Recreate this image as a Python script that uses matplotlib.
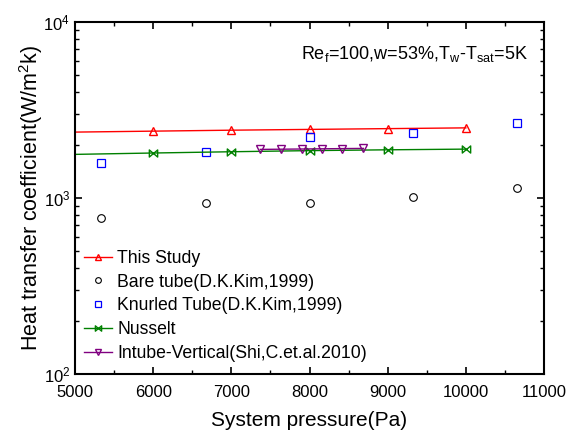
import matplotlib
matplotlib.use('Agg')
import matplotlib.pyplot as plt
import numpy as np
from matplotlib.path import Path
from matplotlib.ticker import MultipleLocator, LogLocator, NullFormatter

plt.rcParams['font.family'] = ['Liberation Sans', 'DejaVu Sans']
plt.rcParams['mathtext.fontset'] = 'custom'
plt.rcParams['mathtext.rm'] = 'Liberation Sans'
plt.rcParams['mathtext.it'] = 'Liberation Sans'

# datos
p_study = [5000, 6000, 7000, 8000, 9000, 10000]
h_study = [2370, 2400, 2430, 2455, 2480, 2505]

p_kim = [5330, 6675, 8000, 9320, 10660]
h_bare = [773, 939, 933, 1014, 1134]
h_knurled = [1587, 1833, 2228, 2329, 2666]

p_nusselt = [5000, 6000, 7000, 8000, 9000, 10000]
h_nusselt = [1771, 1803, 1833, 1860, 1880, 1897]

p_shi = [7370, 7630, 7900, 8160, 8420, 8690]
h_shi = [1890, 1895, 1900, 1905, 1910, 1915]

# marcador tipo "bowtie"
bowtie = Path([(-1, 0.85), (-1, -0.85), (1, 0.85), (1, -0.85), (-1, 0.85)],
              [Path.MOVETO, Path.LINETO, Path.LINETO, Path.LINETO, Path.CLOSEPOLY])

fig = plt.figure(figsize=(5.69, 4.32), dpi=100)
ax = fig.add_axes([0.132, 0.134, 0.824, 0.815])

ax.plot(p_study, h_study, color='red', lw=1, marker='^', ms=6, mfc='none',
        mew=1, markevery=slice(1, None), label='This Study')
ax.plot(p_kim, h_bare, ls='none', color='black', marker='o', ms=5.5, mfc='none',
        mew=0.8, label='Bare tube(D.K.Kim,1999)')
ax.plot(p_kim, h_knurled, ls='none', color='blue', marker='s', ms=5.5, mfc='none',
        mew=0.9, label='Knurled Tube(D.K.Kim,1999)')
ax.plot(p_nusselt, h_nusselt, color='green', lw=1, marker=bowtie, ms=6, mfc='none',
        mew=1, markevery=slice(1, None), label='Nusselt')
ax.plot(p_shi, h_shi, color='purple', lw=1, marker='v', ms=6, mfc='none',
        mew=1, label='Intube-Vertical(Shi,C.et.al.2010)')

ax.set_yscale('log')
ax.set_xlim(5000, 11000)
ax.set_ylim(100, 10000)
ax.xaxis.set_major_locator(MultipleLocator(1000))
ax.xaxis.set_minor_locator(MultipleLocator(500))
ax.yaxis.set_major_locator(LogLocator(base=10))
ax.yaxis.set_minor_locator(LogLocator(base=10, subs=np.arange(2, 10)))
ax.yaxis.set_minor_formatter(NullFormatter())

ax.tick_params(which='both', direction='in', top=True, right=True, labelsize=12)
ax.tick_params(axis='x', which='major', pad=8)
ax.tick_params(which='major', length=5, width=1.2)
ax.tick_params(which='minor', length=3, width=1)
for s in ax.spines.values():
    s.set_linewidth(1.5)

ax.set_xlabel('System pressure(Pa)', fontsize=15, labelpad=8)
ax.set_ylabel('Heat transfer coefficient(W/m$^2$k)', fontsize=15.5, labelpad=-1)

ax.text(0.965, 0.91, r'Re$_f$=100,w=53%,T$_w$-T$_{sat}$=5K', transform=ax.transAxes,
        ha='right', va='center', fontsize=13)

ax.legend(loc='lower left', frameon=False, fontsize=12.7, handlelength=1.6,
          handletextpad=0.3, labelspacing=0.38, borderaxespad=0.3,
          markerscale=0.75, bbox_to_anchor=(-0.008, 0.0))

fig.savefig('out.png', dpi=100)
